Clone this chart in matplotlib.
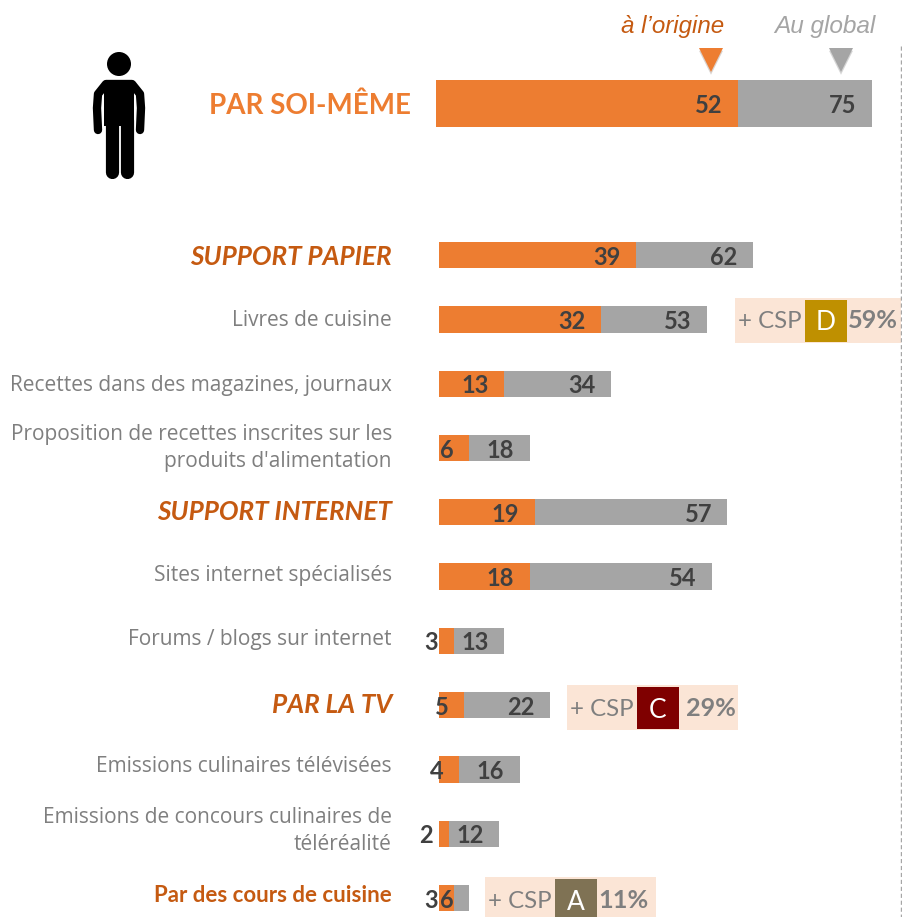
import matplotlib
matplotlib.use('Agg')
import matplotlib.pyplot as plt
import matplotlib.patheffects as pe
from matplotlib.patches import Rectangle, Polygon, Circle

W, H = 902, 917

top_label = 'PAR SOI-MÊME'
top_origine = 52
top_global = 75

labels = ['SUPPORT PAPIER', 'Livres de cuisine', 'Recettes dans des magazines, journaux',
          "Proposition de recettes inscrites sur les\nproduits d'alimentation",
          'SUPPORT INTERNET', 'Sites internet spécialisés', 'Forums / blogs sur internet',
          'PAR LA TV', 'Emissions culinaires télévisées',
          'Emissions de concours culinaires de\ntéléréalité', 'Par des cours de cuisine']
origine = [39, 32, 13, 6, 19, 18, 3, 5, 4, 2, 3]
au_global = [62, 53, 34, 18, 57, 54, 13, 22, 16, 12, 6]

# lignes qui ont un encart + CSP
csp_rows = [1, 7, 10]
csp_letters = ['D', 'C', 'A']
csp_pct = ['59%', '29%', '11%']
csp_colors = ['#BF9000', '#7F0000', '#7F7254']

ORANGE = '#ED7D31'
GREY = '#A5A5A5'
DARK = '#404040'
RUST = '#C55A11'
TXT = '#7F7F7F'
section_rows = [0, 4, 7]


def px_axes(left, top, right, bottom):
    return fig.add_axes([left / W, 1 - bottom / H, (right - left) / W, (bottom - top) / H])


def value_label(ax, val, y):
    ax.annotate(str(val), (val, y), xytext=(-15.5, -2), textcoords='offset pixels', ha='right',
                va='center', family='Lato', weight='bold', fontsize=17, color=DARK,
                zorder=5, annotation_clip=False)


fig = plt.figure(figsize=(W / 100, H / 100), dpi=100, facecolor='white')

# barre du haut
ax_top = px_axes(435.5, 80, 871.5, 127)
ax_top.barh([0], [top_global], height=1, color=GREY)
ax_top.barh([0], [top_origine], height=1, color=ORANGE)
value_label(ax_top, top_origine, 0)
value_label(ax_top, top_global, 0)
ax_top.set_xlim(0, top_global)
ax_top.set_ylim(0.5, -0.5)
ax_top.axis('off')

# barres du detail
ax = px_axes(438.5, 223, 901, 917)
rows = list(range(len(labels)))
ax.barh(rows, au_global, height=0.41, color=GREY)
ax.barh(rows, origine, height=0.41, color=ORANGE)
for i in rows:
    value_label(ax, au_global[i], i)
    value_label(ax, origine[i], i)
ax.set_xlim(0, 462.5 / 5.07)
ax.set_ylim(10.295, -0.5)
ax.axis('off')

# calque en pixels pour le reste
ov = fig.add_axes([0, 0, 1, 1], zorder=10)
ov.set_xlim(0, W)
ov.set_ylim(H, 0)
ov.axis('off')
ov.patch.set_alpha(0)

ov.text(673, 26, 'à l’origine', family='Liberation Sans', style='italic', fontsize=17.4,
        color=RUST, ha='center', va='center')
ov.text(825, 26, 'Au global', family='Liberation Sans', style='italic', fontsize=17.6,
        color=GREY, ha='center', va='center')

shadow = [pe.SimplePatchShadow(offset=(0, -2), alpha=0.2), pe.Normal()]
for cx, col in [(711, ORANGE), (841, GREY)]:
    ov.add_patch(Polygon([(cx - 12, 48), (cx + 12, 48), (cx, 72)], color=col, lw=0,
                         path_effects=shadow))

ov.plot([901, 901], [46, H], color='#A6A6A6', lw=1, ls=(0, (3, 2)))

ov.text(411, 106, top_label, family='Lato', weight='bold', fontsize=20, color=ORANGE,
        ha='right', va='center')

# bonhomme
ov.add_patch(Circle((119, 64), 12, color='black', lw=0))
ov.add_patch(Rectangle((104, 82), 30, 44, color='black', lw=0))
ov.plot([111.5, 111.5], [120, 172], color='black', lw=9.5, solid_capstyle='round')
ov.plot([126.5, 126.5], [120, 172], color='black', lw=9.5, solid_capstyle='round')
ov.plot([98, 97, 98, 106, 132, 140, 141, 140], [130, 108, 94, 84, 84, 94, 108, 130],
        color='black', lw=6, solid_capstyle='round', solid_joinstyle='round')

# libelles
label_y = [257, 321, 385, 448, 512, 576, 640, 705, 767, 831, 895]
for i, (lab, y) in enumerate(zip(labels, label_y)):
    if i in section_rows:
        ov.text(392, y, lab, family='Lato', weight='bold', style='italic', fontsize=18.8,
                color=RUST, ha='right', va='center')
    elif i == 10:
        ov.text(392, y, lab, family='Lato', weight='bold', fontsize=16, color=RUST,
                ha='right', va='center')
    else:
        ov.text(392, y, lab, family='Open Sans', fontsize=15.05, color=TXT, ha='right',
                va='center', linespacing=1.37, multialignment='right')

# encarts + CSP
csp_x = [735, 567, 485]
csp_y = [298, 685, 877]
csp_w = [166, 171, 171]
csp_pct_x = [898, 736, 649]
for x0, y0, w, px, letter, pct, col in zip(csp_x, csp_y, csp_w, csp_pct_x, csp_letters, csp_pct, csp_colors):
    ov.add_patch(Rectangle((x0, y0), w, 45, color='#FBE5D6', lw=0))
    ov.add_patch(Rectangle((x0 + 69.5, y0 + 2), 42, 42, color=col, lw=0))
    ym = y0 + 24
    ov.text(x0 + 3, ym, '+ CSP', family='Lato', fontsize=17.3, color=TXT, ha='left', va='center')
    ov.text(x0 + 90.5, ym + 1, letter, family='Lato', fontsize=19, color='white', ha='center', va='center')
    ov.text(px, ym - 1, pct, family='Lato', weight='bold', fontsize=18.2, color=TXT,
            ha='right', va='center')

fig.savefig('out.png', dpi=100)
